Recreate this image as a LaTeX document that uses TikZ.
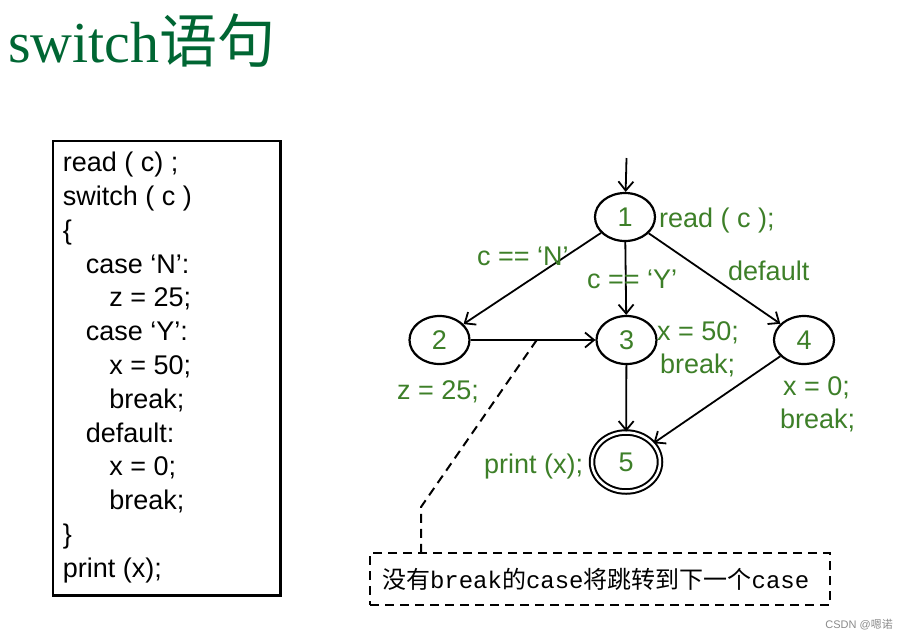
\documentclass[tikz,border=0pt]{standalone}
\usepackage{fontspec}
\setmainfont{Liberation Serif}
\setsansfont{Liberation Sans}
\setmonofont{Liberation Mono}
\newfontfamily\cjk{Noto Sans CJK SC}
\usetikzlibrary{arrows.meta,positioning,shapes.geometric,calc}
\definecolor{TitleGreen}{HTML}{006633}
\definecolor{LabelGreen}{HTML}{3D7F28}
\definecolor{MarkGray}{HTML}{8A8A8A}
\tikzset{
  statenode/.style={ellipse,draw,line width=2.2pt,minimum width=60pt,minimum height=48pt,inner sep=0pt,text=LabelGreen,font=\sffamily\fontsize{27}{30}\selectfont},
  finalnode/.style={statenode,double,double distance=2.5pt,line width=2pt,minimum width=68pt,minimum height=59pt},
  flowarrow/.style={-{Straight Barb[length=9pt,width=15pt]},line width=1.8pt},
  greenlabel/.style={anchor=base west,inner sep=0pt,text=LabelGreen,font=\sffamily\fontsize{27}{30}\selectfont},
  codeline/.style={anchor=base west,inner sep=0pt,font=\sffamily\fontsize{27}{30}\selectfont},
  codebox/.style={draw,line width=2.6pt},
  notebox/.style={draw,line width=2pt,dash pattern=on 9pt off 6pt,minimum width=460pt,minimum height=52pt,inner sep=0pt,text width=436pt,align=left,font=\ttfamily\fontsize{24}{26}\selectfont},
  notelink/.style={line width=2pt,dash pattern=on 9pt off 6pt}
}
\begin{document}
\begin{tikzpicture}[x=1pt,y=-1pt]
\useasboundingbox (0,0) rectangle (907,640);
% title
\node[anchor=base west,inner sep=0pt,text=TitleGreen,font=\fontsize{58}{62}\selectfont] (title) at (8,62) {switch{\cjk 语句}};
% source code
\draw[codebox] (53,141) rectangle (280.5,595.5);
\foreach \codetext [count=\i from 0] in {{read ( c) ;},{switch ( c )},{\{},
    {\hspace*{23pt}case ‘N’:},{\hspace*{46.5pt}z = 25;},{\hspace*{23pt}case ‘Y’:},
    {\hspace*{46.5pt}x = 50;},{\hspace*{46.5pt}break;},{\hspace*{23pt}default:},
    {\hspace*{46.5pt}x = 0;},{\hspace*{46.5pt}break;},{\}},{print (x);}}
  \node[codeline] (code\i) at (62.7,{171.7+33.8*\i}) {\codetext};
% flow graph
\node[statenode] (n1) at (625,217) {1};
\node[statenode] (n2) at (439.5,340) {2};
\node[statenode] (n3) at (626.5,340) {3};
\node[statenode] (n4) at (804,340) {4};
\node[finalnode] (n5) at (626,462) {5};
\coordinate (entry) at (626.5,158);
\draw[flowarrow] (entry) -- (n1);
\draw[flowarrow] (n1) -- (n2);
\draw[flowarrow] (n1) -- (n3);
\draw[flowarrow] (n1) -- (n4);
\draw[flowarrow] (n2) -- coordinate[pos=0.53] (skip) (n3);
\draw[flowarrow] (n3) -- (n5);
\draw[flowarrow] (n4) -- (n5);
% labels
\node[greenlabel] (l1) at (659,227) {read ( c );};
\node[greenlabel] (lN) at (477,265) {c == ‘N’};
\node[greenlabel] (lY) at (587,288) {c == ‘Y’};
\node[greenlabel] (ldef) at (728,280) {default};
\node[greenlabel] (l3a) at (657,340) {x = 50;};
\node[greenlabel] (l3b) at (660,373) {break;};
\node[greenlabel] (l2) at (397,399) {z = 25;};
\node[greenlabel] (l4a) at (783,395) {x = 0;};
\node[greenlabel] (l4b) at (780,428) {break;};
\node[greenlabel] (l5) at (484,473) {print (x);};
% note
\node[notebox] (note) at (600,579) {{\cjk 没有}break{\cjk 的}case{\cjk 将跳转到下一个}case};
\coordinate (bend) at (421,507);
\draw[notelink] (skip) -- (bend) -- (bend |- note.north);
\node[anchor=base east,inner sep=0pt,text=MarkGray,font=\sffamily\fontsize{11}{12}\selectfont] (mark) at (893,628) {CSDN @{\cjk 嗯诺}};
\end{tikzpicture}
\end{document}
